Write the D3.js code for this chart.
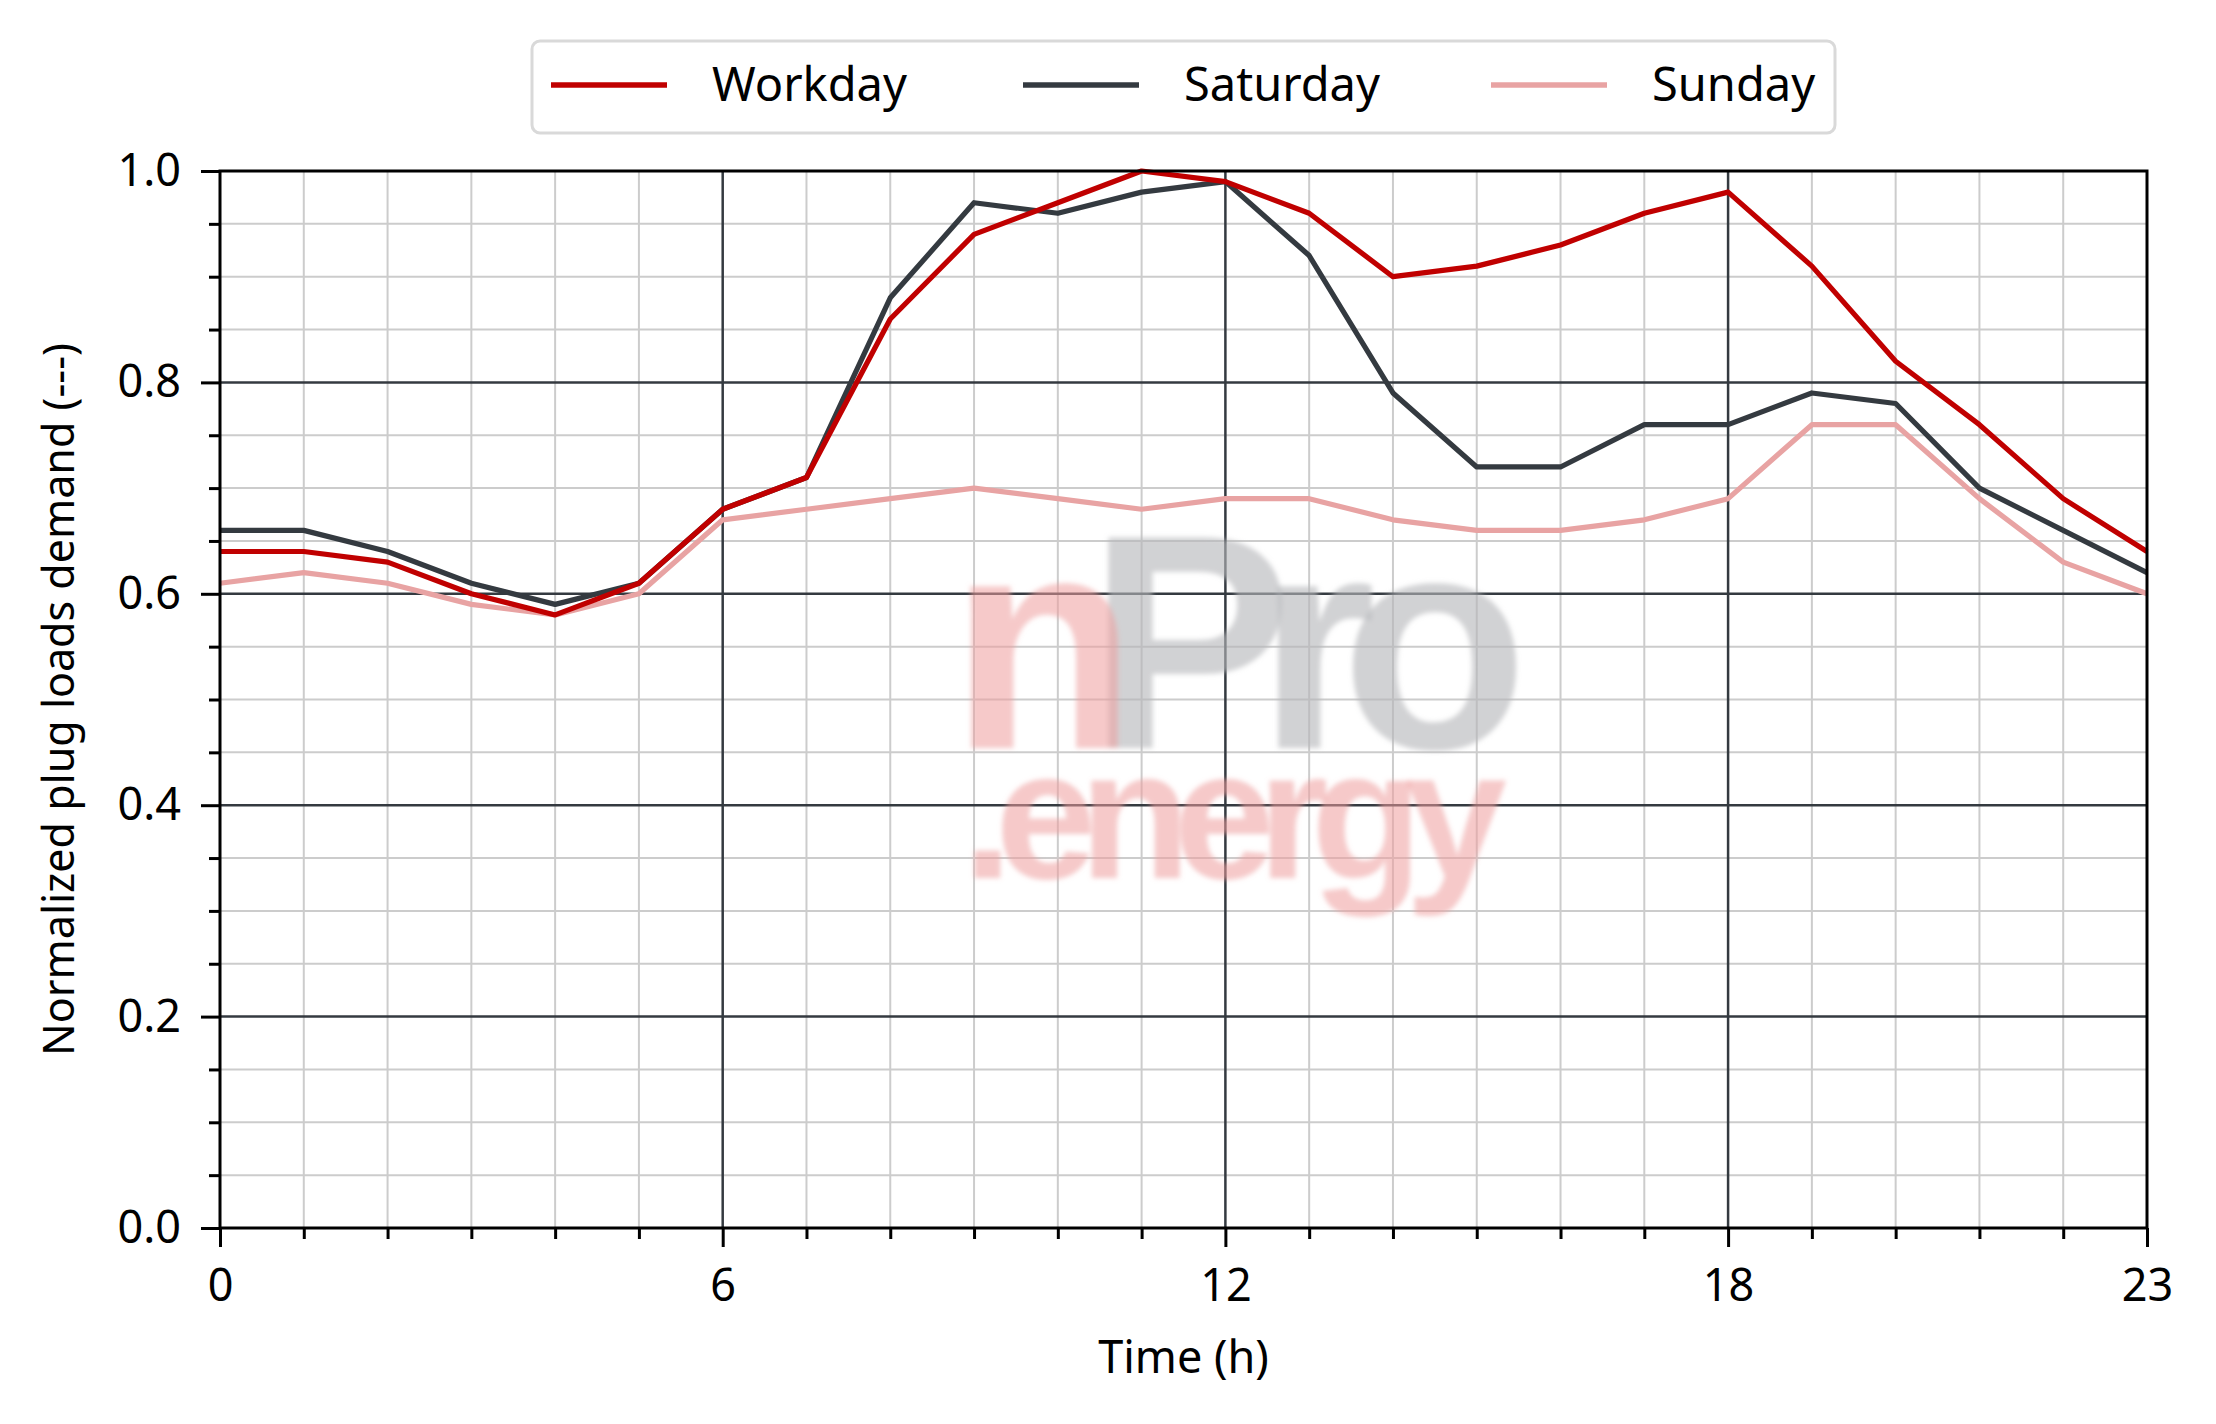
<!DOCTYPE html>
<html>
<head>
<meta charset="utf-8">
<script src="https://cdn.jsdelivr.net/npm/d3@7"></script>
<style>
  html, body { margin: 0; padding: 0; background: #fff; }
  svg { display: block; }
  text { font-family: "Noto Sans", "Open Sans", sans-serif; fill: #000; }
</style>
</head>
<body>
<script>
const hours = d3.range(0, 24);
const workday  = [0.64,0.64,0.63,0.60,0.58,0.61,0.68,0.71,0.86,0.94,0.97,1.00,0.99,0.96,0.90,0.91,0.93,0.96,0.98,0.91,0.82,0.76,0.69,0.64];
const saturday = [0.66,0.66,0.64,0.61,0.59,0.61,0.68,0.71,0.88,0.97,0.96,0.98,0.99,0.92,0.79,0.72,0.72,0.76,0.76,0.79,0.78,0.70,0.66,0.62];
const sunday   = [0.61,0.62,0.61,0.59,0.58,0.60,0.67,0.68,0.69,0.70,0.69,0.68,0.69,0.69,0.67,0.66,0.66,0.67,0.69,0.76,0.76,0.69,0.63,0.60];
const seriesNames = ["Workday", "Saturday", "Sunday"];
const seriesColors = ["#c00000", "#343a40", "#e8a3a3"];
const xMajorTicks = [0, 6, 12, 18, 23];
const yMajorTicks = [0, 0.2, 0.4, 0.6, 0.8, 1.0];
const xLabel = "Time (h)";
const yLabel = "Normalized plug loads demand (---)";

const W = 2216, H = 1424;
const L = 220, R = 2147, T = 171, B = 1228;

const svg = d3.select("body").append("svg").attr("width", W).attr("height", H);
const x = d3.scaleLinear().domain([0, 23]).range([L, R]);
const y = d3.scaleLinear().domain([0, 1]).range([B, T]);

const defs = svg.append("defs");
defs.append("filter").attr("id", "blur").append("feGaussianBlur").attr("stdDeviation", 2.5);

// minor grid
const xMinor = hours.filter(h => !xMajorTicks.includes(h));
const yMinor = d3.range(0, 21).map(i => i * 0.05).filter(v => !yMajorTicks.some(m => Math.abs(m - v) < 1e-9));
const grid = svg.append("g");
grid.selectAll(".vm").data(xMinor).join("line")
  .attr("x1", d => x(d)).attr("x2", d => x(d)).attr("y1", T).attr("y2", B)
  .attr("stroke", "#cccccc").attr("stroke-width", 2);
grid.selectAll(".hm").data(yMinor).join("line")
  .attr("x1", L).attr("x2", R).attr("y1", d => y(d)).attr("y2", d => y(d))
  .attr("stroke", "#cccccc").attr("stroke-width", 2);
grid.selectAll(".vM").data(xMajorTicks.slice(1, -1)).join("line")
  .attr("x1", d => x(d)).attr("x2", d => x(d)).attr("y1", T).attr("y2", B)
  .attr("stroke", "#343a40").attr("stroke-width", 2.5);
grid.selectAll(".hM").data(yMajorTicks.slice(1, -1)).join("line")
  .attr("x1", L).attr("x2", R).attr("y1", d => y(d)).attr("y2", d => y(d))
  .attr("stroke", "#343a40").attr("stroke-width", 2.5);

// watermark
const wm = svg.append("g").attr("filter", "url(#blur)").style("font-weight", "bold");
wm.append("text").attr("x", 1088).attr("y", 748).attr("font-size", 306)
  .attr("textLength", 440).attr("lengthAdjust", "spacing")
  .style("font-family", "'Liberation Sans', Arial, sans-serif")
  .style("fill", "#b5b7ba").attr("fill-opacity", 0.62).text("Pro");
wm.append("text").attr("x", 950).attr("y", 748).attr("font-size", 306)
  .style("font-family", "'Liberation Sans', Arial, sans-serif")
  .style("fill", "#ee9c9c").attr("fill-opacity", 0.55).text("n");
wm.append("text").attr("x", 962).attr("y", 878).attr("font-size", 183)
  .attr("textLength", 545).attr("lengthAdjust", "spacing")
  .style("font-family", "'Liberation Sans', Arial, sans-serif")
  .style("fill", "#ee9c9c").attr("fill-opacity", 0.55).text(".energy");

// lines
const line = d3.line().x((d, i) => x(hours[i])).y(d => y(d));
const data = [workday, saturday, sunday];
[2, 1, 0].forEach(k => {
  svg.append("path").datum(data[k]).attr("d", line)
    .attr("fill", "none").attr("stroke", seriesColors[k]).attr("stroke-width", 5.2)
    .attr("stroke-linejoin", "round");
});

// frame
svg.append("rect").attr("x", L).attr("y", T).attr("width", R - L).attr("height", B - T)
  .attr("fill", "none").attr("stroke", "#000").attr("stroke-width", 3);

// axes
const xAxis = svg.append("g").attr("transform", `translate(0,${B})`)
  .call(d3.axisBottom(x).tickValues(xMajorTicks).tickFormat(d3.format("d")).tickSize(19).tickPadding(22));
const xAxisMinor = svg.append("g").attr("transform", `translate(0,${B})`)
  .call(d3.axisBottom(x).tickValues(xMinor).tickFormat("").tickSize(11));
const yAxis = svg.append("g").attr("transform", `translate(${L},0)`)
  .call(d3.axisLeft(y).tickValues(yMajorTicks).tickFormat(d3.format(".1f")).tickSize(19).tickPadding(20));
const yAxisMinor = svg.append("g").attr("transform", `translate(${L},0)`)
  .call(d3.axisLeft(y).tickValues(yMinor).tickFormat("").tickSize(11));
[xAxis, xAxisMinor, yAxis, yAxisMinor].forEach(g => {
  g.select(".domain").remove();
  g.selectAll(".tick line").attr("stroke", "#000").attr("stroke-width", 3);
  g.selectAll(".tick text").attr("font-size", 45).style("font-family", "'Noto Sans', sans-serif").attr("fill", "#000");
});

// axis labels
svg.append("text").attr("x", (L + R) / 2).attr("y", 1373).attr("text-anchor", "middle")
  .attr("font-size", 45).text(xLabel);
svg.append("text").attr("transform", `translate(74,${(T + B) / 2}) rotate(-90)`).attr("text-anchor", "middle")
  .attr("font-size", 43).text(yLabel);

// legend
const lg = svg.append("g");
lg.append("rect").attr("x", 532).attr("y", 41).attr("width", 1303).attr("height", 92).attr("rx", 8)
  .attr("fill", "#fff").attr("stroke", "#d9d9d9").attr("stroke-width", 3);
const legX = [551, 1023, 1491];
seriesNames.forEach((name, i) => {
  lg.append("line").attr("x1", legX[i]).attr("x2", legX[i] + 116).attr("y1", 85).attr("y2", 85)
    .attr("stroke", seriesColors[i]).attr("stroke-width", 5.5);
  lg.append("text").attr("x", legX[i] + 161).attr("y", 101).attr("font-size", 47).text(name);
});
</script>
</body>
</html>
